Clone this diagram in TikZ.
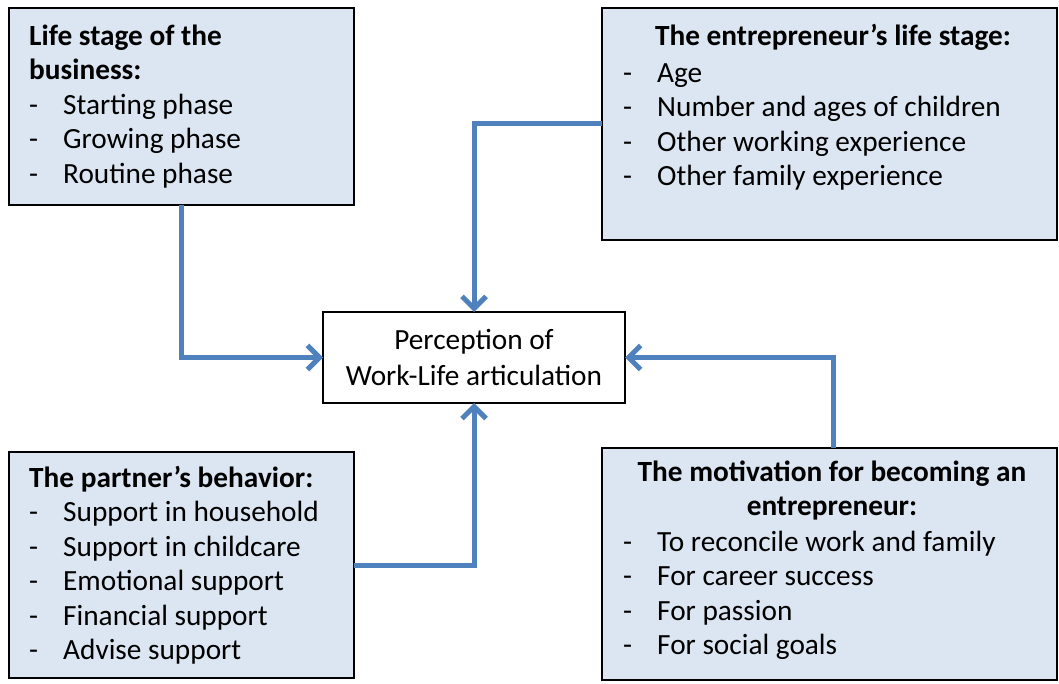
\documentclass[tikz,border=0pt]{standalone}
\usepackage{fontspec}
\setmainfont{Carlito}
\usetikzlibrary{arrows.meta}
\definecolor{boxblue}{HTML}{DCE6F2}
\definecolor{arrowblue}{HTML}{4F81BD}
\newcommand{\diagfont}{\fontsize{29.3}{34.5}\selectfont}
\newcommand{\firstline}{\rule{0pt}{24pt}}
\newcommand{\dashitem}[1]{\makebox[34pt][l]{-}#1}
\tikzstyle{stagebox} = [draw=black,line width=2.5pt,fill=boxblue,anchor=north west,inner sep=0pt,outer sep=0pt]
\tikzstyle{heading} = [font=\diagfont\bfseries,align=center,anchor=north,inner sep=0pt]
\tikzstyle{itemlist} = [font=\diagfont,align=left,anchor=north west,inner sep=0pt]
\tikzstyle{influence} = [arrowblue,line width=5pt,-{Straight Barb[length=12pt,width=24pt]}]

\begin{document}
\begin{tikzpicture}[x=1pt,y=-1pt]
\useasboundingbox (0,0) rectangle (1059,684);

% the four boxes
\node[stagebox,minimum width=345pt,minimum height=197pt] (business) at (9,8) {};
\node[stagebox,minimum width=455pt,minimum height=232pt] (lifestage) at (602,8) {};
\node[stagebox,minimum width=345pt,minimum height=226pt] (partner) at (9,452) {};
\node[stagebox,minimum width=455pt,minimum height=232pt] (motivation) at (602,448) {};

% centre box
\node[draw=black,line width=2pt,fill=white,minimum width=302pt,minimum height=91pt,
  inner sep=0pt,outer sep=0pt,font=\fontsize{29.3}{36}\selectfont,align=center] (perception) at (474,357.5)
  {Perception of\\Work-Life articulation};

% texts
\node[itemlist] (businesstxt) at (29,21) {\firstline\textbf{Life stage of the}\\\textbf{business:}\\
  \dashitem{Starting phase}\\\dashitem{Growing phase}\\\dashitem{Routine phase}};
\node[heading] (lifestagehead) at (833,21) {\firstline The entrepreneur’s life stage:};
\node[itemlist] (lifestagetxt) at (623,58) {\firstline\dashitem{Age}\\\dashitem{Number and ages of children}\\
  \dashitem{Other working experience}\\\dashitem{Other family experience}};
\node[itemlist] (partnertxt) at (29,463) {\firstline\textbf{The partner’s behavior:}\\
  \dashitem{Support in household}\\\dashitem{Support in childcare}\\\dashitem{Emotional support}\\
  \dashitem{Financial support}\\\dashitem{Advise support}};
\node[heading] (motivationhead) at (832,457) {\firstline The motivation for becoming an\\entrepreneur:};
\node[itemlist] (motivationtxt) at (623,527) {\firstline\dashitem{To reconcile work and family}\\
  \dashitem{For career success}\\\dashitem{For passion}\\\dashitem{For social goals}};

% arrows
\draw[influence] (business.south) |- (perception.west);
\draw[influence] (lifestage.west) -| (perception.north);
\draw[influence] (partner.east) -| (perception.south);
\draw[influence] ([xshift=3.5pt]motivation.north) |- (perception.east);
\end{tikzpicture}
\end{document}
